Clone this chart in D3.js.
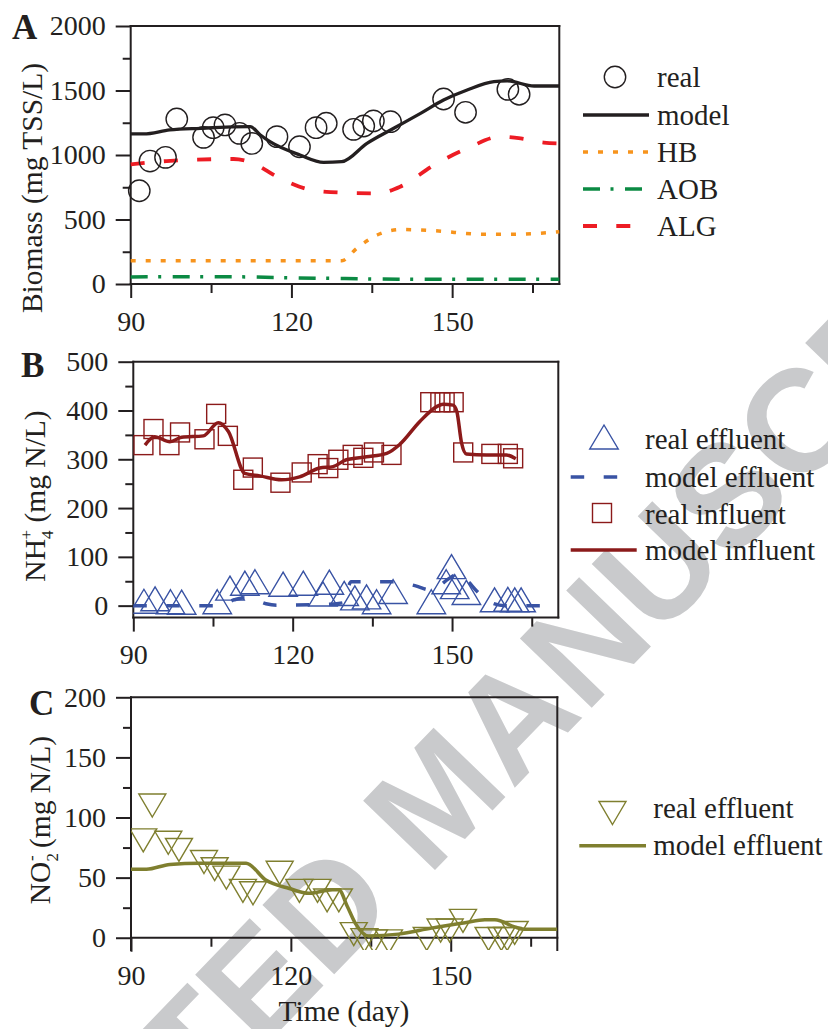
<!DOCTYPE html>
<html>
<head>
<meta charset="utf-8">
<script src="https://d3js.org/d3.v7.min.js"></script>
<style>
  body { margin: 0; background: #fff; }
  svg text { font-family: "Liberation Serif", "Times New Roman", serif; fill: #231f20; }
</style>
</head>
<body>
<svg id="chart" width="828" height="1029"></svg>
<script>
// ---------- panel A : biomass (mg TSS/L) ----------
var bioRealDay  = [91.6, 93.6, 96.5, 98.6, 103.6, 105.4, 107.6, 110.3, 112.6, 117.3, 121.5, 124.6, 126.5, 131.6, 133.5, 135.3, 138.5, 148.4, 152.5, 160.4, 162.5];
var bioRealVal  = [723, 953, 982, 1279, 1137, 1212, 1233, 1168, 1090, 1142, 1064, 1212, 1246, 1199, 1225, 1264, 1258, 1434, 1331, 1509, 1471];
var bioModelDay = [90, 92.4, 97.3, 103, 112.3, 114.2, 116, 121.6, 126, 129.4, 134.1, 139.1, 144.1, 148.4, 152.8, 157.8, 160.3, 165.3, 170];
var bioModelVal = [1163, 1163, 1194, 1207, 1220, 1155, 1103, 1000, 943, 948, 1090, 1207, 1323, 1426, 1504, 1568, 1574, 1535, 1535];
var hbDay  = [90, 129.4, 132.2, 136, 140.3, 146.6, 155.9, 160.9, 170];
var hbVal  = [180, 180, 277, 380, 422, 413, 385, 385, 405];
var aobDay = [90, 100, 112, 120, 130, 140, 170];
var aobVal = [55, 57, 55, 48, 42, 37, 36];
var algDay = [90, 96.7, 109.2, 112.9, 117.3, 122.9, 127.3, 136, 140.3, 146.6, 152.8, 159, 162.8, 167.1, 170];
var algVal = [928, 953, 969, 935, 832, 736, 713, 703, 754, 922, 1051, 1142, 1129, 1096, 1090];

// ---------- panel B : NH4+ (mg N/L) ----------
var nhInRealDay  = [91.9, 93.8, 96.8, 98.8, 103.4, 105.6, 107.8, 110.7, 112.5, 117.7, 121.7, 124.7, 126.7, 128.6, 131.3, 133.3, 135.3, 138.6, 145.9, 147.8, 148.6, 150.3, 152.1, 157.4, 160.5, 161.5];
var nhInRealVal  = [329, 362, 329, 355, 341, 393, 348, 258, 283, 252, 273, 290, 282, 299, 309, 303, 314, 309, 417, 417, 417, 417, 314, 311, 311, 302];
var nhInModelDay = [92.2, 94.0, 96.9, 99.1, 103.2, 106, 107.9, 111, 113.8, 117.9, 121.3, 125.1, 127.6, 130.1, 133.9, 137.7, 140.2, 143.9, 147.1, 148.3, 150.2, 150.9, 151.8, 152.7, 156.5, 160.2, 162];
var nhInModelVal = [329, 346, 336, 345, 348, 375, 357, 271, 266, 258, 264, 282, 285, 299, 305, 312, 331, 377, 408, 413, 411, 398, 333, 311, 309, 309, 301];
var nhEffRealDay  = [92, 94.1, 97, 99.1, 105.8, 108.2, 111, 112.9, 118.2, 122, 125.7, 126.9, 129.7, 131.7, 133.9, 135.8, 138.9, 146.1, 148.9, 149.9, 150.5, 152.7, 158, 160.5, 161.8, 163];
var nhEffRealVal  = [9, 14, 8, 7, 8, 36, 46, 49, 44, 46, 24, 48, 25, 16, 18, 8, 29, 8, 49, 80, 39, 27, 12, 13, 12, 12];
var nhEffModelDay = [90, 106, 109, 111, 113, 115, 117, 127, 129.5, 131, 139, 143, 146, 149.5, 151.5, 153, 155, 157, 160, 170];
var nhEffModelVal = [0, 0, 12, 16, 12, 4, 1, 3, 6, 49, 49, 41, 32, 56, 67, 50, 26, 8, 0, 0];

// ---------- panel C : NO2- (mg N/L) ----------
var noRealDay  = [92.3, 94.0, 97.0, 99.0, 103.7, 105.7, 107.9, 111, 112.9, 117.9, 121.6, 125, 126.8, 129, 131.8, 133.8, 135.6, 138.4, 145.5, 148.1, 149.8, 152.3, 157.1, 159.5, 160.6, 162];
var noRealVal  = [81, 110, 79, 73, 63, 57, 50, 39, 37, 54, 39, 39, 31, 31, 3, -2, -3, -3, -1, 6, 6, 14, -1, -1, -1, 4];
var noModelDay = [90, 92.9, 97.3, 102.9, 111.6, 115.3, 119.7, 123.4, 127.8, 129, 130.6, 132.1, 134.6, 140.2, 146.4, 152.7, 156.4, 158.3, 162, 163.8, 170];
var noModelVal = [57, 57, 61, 62, 62, 48, 41, 37, 40, 40, 26, 12, 1.5, 3, 8, 12.5, 15, 15, 9, 7, 7];

// axis ticks
var dayMajor = [90, 120, 150];
var dayMinor = [105, 135, 165];

var ink = "#231f20";
var serif = "'Liberation Serif', 'Times New Roman', serif";
var svg = d3.select("#chart");
var defs = svg.append("defs");

// watermark sits behind everything
svg.append("text")
    .attr("transform", "translate(437,796) rotate(-46)")
    .attr("text-anchor", "middle")
    .attr("dominant-baseline", "central")
    .style("font-family", "'Liberation Sans', Arial, sans-serif")
    .style("font-weight", "bold")
    .style("font-size", "145px")
    .style("fill", "#c9cacc")
    .text("ACCEPTED MANUSCRIPT");

function styleAxis(sel) {
    sel.select(".domain").remove();
    sel.selectAll("line").attr("stroke", ink).attr("stroke-width", 2);
    sel.selectAll("text").style("font-family", serif).style("font-size", "28px").style("fill", ink);
}

function pairs(days, vals) {
    return days.map(function(d, i) { return [d, vals[i]]; });
}

function triPath(cx, cy, w, h, down) {
    var s = down ? -1 : 1;
    return "M" + cx + "," + (cy - s * h / 2) + "L" + (cx + w / 2) + "," + (cy + s * h / 2) +
        "L" + (cx - w / 2) + "," + (cy + s * h / 2) + "Z";
}

function drawPanel(p) {
    var x = d3.scaleLinear().domain([90, 170]).range([p.left, p.right]);
    var y = d3.scaleLinear().domain(p.yDomain).range([p.bottom, p.top]);
    var g = svg.append("g");
    var axisY = y(p.xAxisAt);
    var fmt = d3.format("d");

    defs.append("clipPath").attr("id", "clip-" + p.name).append("rect")
        .attr("x", p.left).attr("y", p.top)
        .attr("width", p.right - p.left).attr("height", p.bottom - p.top);

    // frame: top, left, right, x axis line
    var frame = [[p.left, p.top, p.right, p.top], [p.left, p.top, p.left, p.bottom],
                 [p.right, p.top, p.right, p.bottom], [p.left, axisY, p.right, axisY]];
    frame.forEach(function(f) {
        g.append("line").attr("x1", f[0]).attr("y1", f[1]).attr("x2", f[2]).attr("y2", f[3])
            .attr("stroke", ink).attr("stroke-width", 2).attr("stroke-linecap", "square");
    });

    g.append("g").attr("transform", "translate(" + p.left + ",0)")
        .call(d3.axisLeft(y).tickValues(p.yMajor).tickFormat(fmt).tickSize(15).tickPadding(10)).call(styleAxis);
    g.append("g").attr("transform", "translate(" + p.left + ",0)")
        .call(d3.axisLeft(y).tickValues(p.yMinor).tickSize(8).tickFormat("")).call(styleAxis);
    g.append("g").attr("transform", "translate(0," + axisY + ")")
        .call(d3.axisBottom(x).tickValues(dayMajor).tickFormat(fmt).tickSize(14).tickPadding(13)).call(styleAxis);
    g.append("g").attr("transform", "translate(0," + axisY + ")")
        .call(d3.axisBottom(x).tickValues(dayMinor).tickSize(9).tickFormat("")).call(styleAxis);

    // panel letter
    g.append("text").attr("x", p.letterX).attr("y", p.letterY)
        .style("font-weight", "bold").style("font-size", "35px").text(p.name);

    var plot = g.append("g");
    if (p.clip) plot.attr("clip-path", "url(#clip-" + p.name + ")");
    return {x: x, y: y, g: g, plot: plot};
}

function drawLine(target, pa, days, vals, color, width, dash) {
    var line = d3.line()
        .x(function(d) { return pa.x(d[0]); })
        .y(function(d) { return pa.y(d[1]); })
        .curve(d3.curveMonotoneX);
    target.append("path").attr("d", line(pairs(days, vals)))
        .attr("fill", "none").attr("stroke", color).attr("stroke-width", width)
        .attr("stroke-dasharray", dash || null);
}

function drawTriangles(target, pa, days, vals, color, w, h, down) {
    target.selectAll(null).data(pairs(days, vals)).enter().append("path")
        .attr("d", function(d) { return triPath(pa.x(d[0]), pa.y(d[1]), w, h, down); })
        .attr("fill", "none").attr("stroke", color).attr("stroke-width", 1.4);
}

function legendLine(g, x1, x2, y, color, width, dash) {
    g.append("line").attr("x1", x1).attr("x2", x2).attr("y1", y).attr("y2", y)
        .attr("stroke", color).attr("stroke-width", width).attr("stroke-dasharray", dash || null);
}

function legendText(g, x, y, txt) {
    g.append("text").attr("x", x).attr("y", y).style("font-size", "29px").text(txt);
}

var colBlack = "#231f20", colHB = "#f7941d", colAOB = "#0b8a43", colALG = "#ed1c24";
var colBlue = "#3953a4", colDarkRed = "#8b1a1a", colOlive = "#7f7f2f";

// ---------- A ----------
var pa = drawPanel({name: "A", left: 130.7, right: 559.3, top: 26, bottom: 284,
    yDomain: [0, 2000], xAxisAt: 0, yMajor: [0, 500, 1000, 1500, 2000], yMinor: [250, 750, 1250, 1750],
    letterX: 12, letterY: 39, clip: false});
drawLine(pa.plot, pa, hbDay, hbVal, colHB, 3.5, "5,10");
drawLine(pa.plot, pa, aobDay, aobVal, colAOB, 3.5, "17,10.5,3,11.5");
drawLine(pa.plot, pa, algDay, algVal, colALG, 3.8, "14,19.3");
pa.plot.selectAll(null).data(pairs(bioRealDay, bioRealVal)).enter().append("circle")
    .attr("cx", function(d) { return pa.x(d[0]); })
    .attr("cy", function(d) { return pa.y(d[1]); })
    .attr("r", 10.7).attr("fill", "none").attr("stroke", colBlack).attr("stroke-width", 1.4);
drawLine(pa.plot, pa, bioModelDay, bioModelVal, colBlack, 3.3);

pa.g.append("text").attr("transform", "translate(41.5,188) rotate(-90)")
    .attr("text-anchor", "middle").style("font-size", "29.5px").text("Biomass (mg TSS/L)");

pa.g.append("circle").attr("cx", 615).attr("cy", 77).attr("r", 10.7)
    .attr("fill", "none").attr("stroke", colBlack).attr("stroke-width", 1.4);
legendText(pa.g, 657, 87, "real");
legendLine(pa.g, 583, 649, 115, colBlack, 3.3);
legendText(pa.g, 657, 125, "model");
legendLine(pa.g, 583, 649, 152, colHB, 3.5, "5,10");
legendText(pa.g, 657, 162, "HB");
legendLine(pa.g, 583, 649, 189, colAOB, 3.5, "17,10.5,3,11.5");
legendText(pa.g, 657, 199, "AOB");
legendLine(pa.g, 583, 649, 226, colALG, 3.8, "14,19.3");
legendText(pa.g, 657, 236, "ALG");

// ---------- B ----------
var pb = drawPanel({name: "B", left: 133.3, right: 558.3, top: 361.7, bottom: 617.6,
    yDomain: [-24.5, 500], xAxisAt: -24.5, yMajor: [0, 100, 200, 300, 400, 500], yMinor: [50, 150, 250, 350, 450],
    letterX: 21, letterY: 377, clip: true});
drawTriangles(pb.plot, pb, nhEffRealDay, nhEffRealVal, colBlue, 28.5, 24, false);
pb.plot.selectAll(null).data(pairs(nhInRealDay, nhInRealVal)).enter().append("rect")
    .attr("x", function(d) { return pb.x(d[0]) - 9.5; })
    .attr("y", function(d) { return pb.y(d[1]) - 9.5; })
    .attr("width", 19).attr("height", 19)
    .attr("fill", "none").attr("stroke", colDarkRed).attr("stroke-width", 1.4);
drawLine(pb.plot, pb, nhEffModelDay, nhEffModelVal, colBlue, 3.5, "13.5,19.5");
drawLine(pb.plot, pb, nhInModelDay, nhInModelVal, colDarkRed, 3.5);

var tb = pb.g.append("text").attr("transform", "translate(45,496) rotate(-90)")
    .attr("text-anchor", "middle").style("font-size", "29.5px");
tb.append("tspan").text("NH");
tb.append("tspan").attr("dy", 8).style("font-size", "17px").text("4");
tb.append("tspan").attr("dx", -9).attr("dy", -21).style("font-size", "17px").text("+");
tb.append("tspan").attr("dy", 13).text(" (mg N/L)");

pb.g.append("path").attr("d", triPath(604, 437, 28.5, 24, false))
    .attr("fill", "none").attr("stroke", colBlue).attr("stroke-width", 1.4);
legendText(pb.g, 645, 449, "real effluent");
legendLine(pb.g, 570.7, 636.7, 477, colBlue, 3.5, "13.5,19.5");
legendText(pb.g, 645, 486.5, "model effluent");
pb.g.append("rect").attr("x", 592.5).attr("y", 503.5).attr("width", 19).attr("height", 19)
    .attr("fill", "none").attr("stroke", colDarkRed).attr("stroke-width", 1.4);
legendText(pb.g, 645, 523.5, "real influent");
legendLine(pb.g, 570.7, 636.7, 550, colDarkRed, 3.5);
legendText(pb.g, 645, 560, "model influent");

// ---------- C ----------
var pc = drawPanel({name: "C", left: 131, right: 557.3, top: 697.3, bottom: 950,
    yDomain: [-10.2, 200], xAxisAt: 0, yMajor: [0, 50, 100, 150, 200], yMinor: [25, 75, 125, 175],
    letterX: 29, letterY: 715, clip: true});
drawTriangles(pc.plot, pc, noRealDay, noRealVal, colOlive, 27, 23, true);
drawLine(pc.plot, pc, noModelDay, noModelVal, colOlive, 3.5);

var tc = pc.g.append("text").attr("transform", "translate(50,820) rotate(-90)")
    .attr("text-anchor", "middle").style("font-size", "29.5px");
tc.append("tspan").text("NO");
tc.append("tspan").attr("dy", 8).style("font-size", "17px").text("2");
tc.append("tspan").attr("dx", -8).attr("dy", -21).style("font-size", "17px").text("-");
tc.append("tspan").attr("dy", 13).text(" (mg N/L)");

pc.g.append("text").attr("x", 344).attr("y", 1020.5).attr("text-anchor", "middle")
    .style("font-size", "29.5px").text("Time (day)");

pc.g.append("path").attr("d", triPath(612.5, 813, 27, 23, true))
    .attr("fill", "none").attr("stroke", colOlive).attr("stroke-width", 1.4);
legendText(pc.g, 653.3, 818.3, "real effluent");
legendLine(pc.g, 579.3, 646, 845.7, colOlive, 3.5);
legendText(pc.g, 653.3, 855, "model effluent");
</script>
</body>
</html>
